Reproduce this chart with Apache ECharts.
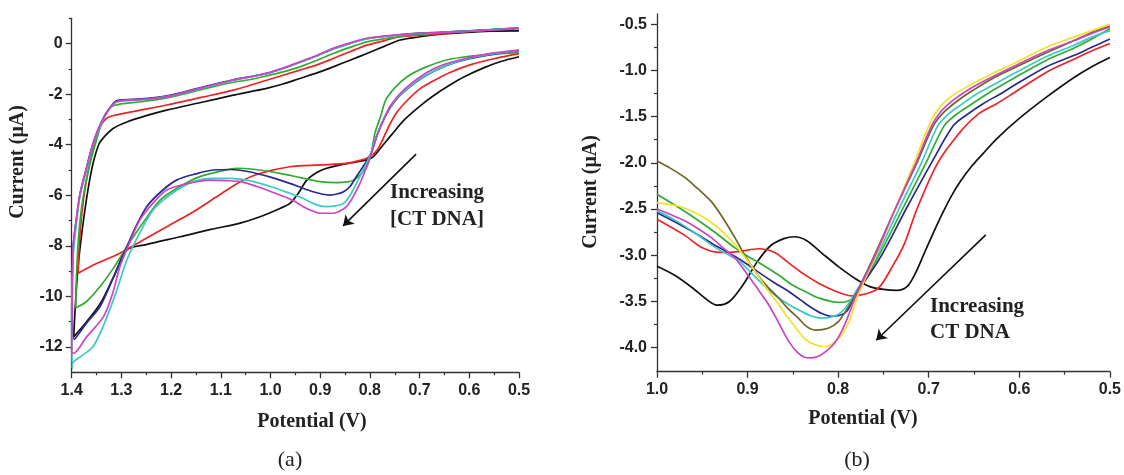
<!DOCTYPE html>
<html>
<head>
<meta charset="utf-8">
<script src="https://cdn.jsdelivr.net/npm/echarts@6/dist/echarts.min.js"></script>
<style>
  html, body { margin: 0; padding: 0; background: #fff; }
  #chart { width: 1124px; height: 475px; }
</style>
</head>
<body>
<div id="chart"></div>
<script>
// ---- panel (a): cyclic voltammograms, [potential V, current uA] ----
var aBlack = [[0.50,0.50],[0.558,0.49],[0.62,0.42],[0.672,0.34],[0.705,0.25],[0.739,0.14],[0.77,-0.10],[0.806,-0.39],[0.84,-0.66],[0.874,-0.92],[0.905,-1.15],[0.941,-1.38],[0.975,-1.60],[1.008,-1.77],[1.04,-1.90],[1.075,-2.04],[1.14,-2.33],[1.209,-2.63],[1.25,-2.85],[1.289,-3.10],[1.316,-3.35],[1.335,-3.70],[1.346,-4.01],[1.36,-5.0],[1.375,-6.8],[1.388,-9.0],[1.396,-11.6],
  [1.37,-11.0],[1.343,-10.3],[1.315,-9.2],[1.289,-8.16],[1.25,-7.95],[1.182,-7.64],[1.12,-7.35],[1.061,-7.10],[1.021,-6.85],[0.98,-6.51],[0.961,-6.32],[0.945,-5.95],[0.927,-5.40],[0.905,-5.08],[0.887,-4.93],[0.85,-4.76],[0.806,-4.60],[0.793,-4.47],[0.775,-4.05],[0.754,-3.55],[0.73,-3.0],[0.70,-2.48],[0.675,-2.10],[0.64,-1.65],[0.61,-1.31],[0.57,-0.95],[0.535,-0.70],[0.50,-0.52]];
var aRed = [[0.50,0.60],[0.56,0.53],[0.62,0.45],[0.68,0.35],[0.739,0.27],[0.77,0.12],[0.806,-0.06],[0.84,-0.32],[0.874,-0.59],[0.905,-0.83],[0.941,-1.05],[1.008,-1.45],[1.075,-1.84],[1.14,-2.13],[1.209,-2.43],[1.27,-2.66],[1.31,-2.82],[1.33,-2.96],[1.345,-3.4],[1.36,-4.4],[1.372,-5.6],[1.38,-6.8],[1.385,-8.0],[1.387,-9.08],
  [1.35,-8.70],[1.303,-8.29],[1.25,-7.70],[1.182,-6.95],[1.155,-6.65],[1.11,-6.08],[1.061,-5.46],[1.02,-5.13],[0.961,-4.87],[0.90,-4.80],[0.847,-4.74],[0.82,-4.62],[0.80,-4.47],[0.785,-4.2],[0.772,-3.7],[0.76,-3.2],[0.745,-2.7],[0.725,-2.25],[0.70,-1.8],[0.67,-1.45],[0.64,-1.15],[0.60,-0.85],[0.55,-0.60],[0.50,-0.40]];
var aGreen = [[0.50,0.62],[0.56,0.55],[0.62,0.48],[0.70,0.36],[0.75,0.25],[0.806,0.07],[0.84,-0.15],[0.874,-0.39],[0.905,-0.65],[0.941,-0.92],[0.975,-1.12],[1.008,-1.28],[1.04,-1.42],[1.075,-1.53],[1.14,-1.82],[1.209,-2.15],[1.26,-2.30],[1.30,-2.38],[1.32,-2.5],[1.335,-2.9],[1.35,-3.8],[1.365,-4.9],[1.378,-6.2],[1.386,-7.6],[1.39,-9.0],[1.392,-10.45],
  [1.37,-10.2],[1.343,-9.61],[1.315,-8.85],[1.289,-8.03],[1.255,-7.05],[1.222,-6.19],[1.182,-5.65],[1.142,-5.26],[1.10,-5.05],[1.068,-4.93],[1.03,-4.98],[0.981,-5.13],[0.94,-5.30],[0.90,-5.46],[0.867,-5.50],[0.845,-5.47],[0.833,-5.40],[0.82,-5.2],[0.806,-4.87],[0.797,-4.3],[0.79,-3.55],[0.778,-2.85],[0.768,-2.23],[0.75,-1.75],[0.725,-1.31],[0.69,-0.95],[0.646,-0.65],[0.60,-0.50],[0.55,-0.42],[0.50,-0.36]];
var aBlue = [[0.50,0.61],[0.558,0.54],[0.62,0.48],[0.706,0.40],[0.76,0.31],[0.806,0.19],[0.84,0.01],[0.874,-0.21],[0.905,-0.47],[0.941,-0.74],[0.975,-0.98],[1.008,-1.18],[1.04,-1.31],[1.075,-1.43],[1.14,-1.74],[1.209,-2.07],[1.26,-2.19],[1.309,-2.25],[1.325,-2.6],[1.34,-3.1],[1.357,-3.94],[1.37,-4.9],[1.383,-5.92],[1.391,-7.0],[1.397,-8.03],[1.399,-10.0],[1.395,-11.7],
  [1.37,-11.05],[1.343,-10.4],[1.315,-9.2],[1.289,-8.03],[1.27,-7.2],[1.249,-6.45],[1.22,-5.85],[1.189,-5.40],[1.15,-5.15],[1.115,-5.00],[1.08,-4.98],[1.048,-5.05],[1.0,-5.28],[0.961,-5.53],[0.935,-5.72],[0.914,-5.86],[0.895,-5.96],[0.88,-5.99],[0.866,-5.95],[0.853,-5.86],[0.84,-5.65],[0.827,-5.26],[0.81,-4.75],[0.797,-4.3],[0.785,-3.6],[0.772,-3.0],[0.758,-2.5],[0.742,-2.1],[0.725,-1.8],[0.70,-1.42],[0.675,-1.13],[0.645,-0.86],[0.60,-0.60],[0.55,-0.42],[0.50,-0.28]];
var aCyan = [[0.50,0.61],[0.558,0.54],[0.62,0.47],[0.706,0.39],[0.76,0.30],[0.806,0.18],[0.84,0.0],[0.874,-0.22],[0.905,-0.48],[0.941,-0.75],[0.975,-0.99],[1.008,-1.19],[1.04,-1.32],[1.075,-1.45],[1.14,-1.77],[1.209,-2.10],[1.26,-2.22],[1.309,-2.30],[1.325,-2.62],[1.34,-3.15],[1.357,-4.0],[1.37,-5.0],[1.383,-6.0],[1.391,-7.2],[1.397,-8.4],[1.40,-10.5],[1.399,-12.85],
  [1.398,-12.64],[1.38,-12.35],[1.357,-11.98],[1.335,-11.1],[1.31,-9.8],[1.289,-8.56],[1.262,-7.45],[1.236,-6.58],[1.20,-5.95],[1.155,-5.46],[1.115,-5.33],[1.08,-5.33],[1.048,-5.40],[1.0,-5.65],[0.961,-5.92],[0.935,-6.12],[0.914,-6.32],[0.90,-6.42],[0.887,-6.45],[0.87,-6.42],[0.853,-6.32],[0.84,-6.0],[0.827,-5.53],[0.812,-4.95],[0.798,-4.33],[0.786,-3.6],[0.773,-3.0],[0.759,-2.5],[0.743,-2.1],[0.726,-1.8],[0.70,-1.40],[0.675,-1.12],[0.645,-0.85],[0.60,-0.58],[0.55,-0.40],[0.50,-0.27]];
var aMagenta = [[0.50,0.60],[0.558,0.53],[0.62,0.47],[0.706,0.40],[0.76,0.32],[0.806,0.21],[0.84,0.03],[0.874,-0.19],[0.905,-0.45],[0.941,-0.72],[0.975,-0.97],[1.008,-1.18],[1.04,-1.31],[1.075,-1.44],[1.14,-1.76],[1.209,-2.10],[1.26,-2.22],[1.309,-2.30],[1.325,-2.6],[1.34,-3.1],[1.357,-3.94],[1.37,-4.9],[1.383,-5.92],[1.391,-7.0],[1.397,-8.03],[1.399,-10.0],[1.40,-12.2],
  [1.397,-12.25],[1.37,-11.6],[1.336,-10.8],[1.318,-9.9],[1.303,-8.82],[1.283,-7.85],[1.263,-6.98],[1.236,-6.3],[1.209,-5.79],[1.17,-5.55],[1.122,-5.40],[1.09,-5.42],[1.061,-5.46],[1.02,-5.70],[0.981,-5.99],[0.955,-6.2],[0.934,-6.45],[0.915,-6.62],[0.90,-6.71],[0.874,-6.71],[0.86,-6.62],[0.847,-6.45],[0.835,-6.1],[0.82,-5.53],[0.81,-5.05],[0.797,-4.34],[0.785,-3.6],[0.772,-3.0],[0.76,-2.5],[0.745,-2.1],[0.729,-1.78],[0.705,-1.40],[0.682,-1.10],[0.65,-0.82],[0.61,-0.60],[0.56,-0.40],[0.50,-0.26]];

// ---- panel (b): differential pulse voltammograms ----
var bBlack = [[1.0,-3.12],[0.98,-3.22],[0.96,-3.36],[0.945,-3.48],[0.934,-3.54],[0.92,-3.50],[0.905,-3.32],[0.89,-3.08],[0.875,-2.90],[0.86,-2.82],[0.848,-2.80],[0.835,-2.84],[0.82,-2.96],[0.80,-3.12],[0.78,-3.26],[0.765,-3.34],[0.75,-3.37],[0.735,-3.38],[0.724,-3.34],[0.715,-3.20],[0.705,-2.98],[0.695,-2.76],[0.685,-2.55],[0.675,-2.36],[0.665,-2.20],[0.652,-2.03],[0.64,-1.90],[0.625,-1.74],[0.60,-1.52],[0.57,-1.29],[0.54,-1.08],[0.52,-0.96],[0.50,-0.86]];
var bRed = [[1.0,-2.61],[0.97,-2.78],[0.95,-2.92],[0.93,-2.97],[0.91,-2.96],[0.888,-2.93],[0.87,-2.97],[0.855,-3.08],[0.837,-3.21],[0.82,-3.31],[0.80,-3.40],[0.785,-3.44],[0.77,-3.42],[0.755,-3.35],[0.74,-3.12],[0.727,-2.88],[0.713,-2.50],[0.690,-2.0],[0.663,-1.64],[0.645,-1.47],[0.625,-1.36],[0.607,-1.25],[0.57,-1.02],[0.54,-0.88],[0.52,-0.79],[0.50,-0.71]];
var bGreen = [[1.0,-2.34],[0.98,-2.46],[0.958,-2.60],[0.935,-2.76],[0.914,-2.92],[0.90,-3.01],[0.884,-3.10],[0.865,-3.22],[0.851,-3.32],[0.835,-3.40],[0.822,-3.46],[0.80,-3.51],[0.785,-3.47],[0.755,-3.0],[0.729,-2.5],[0.703,-2.0],[0.683,-1.60],[0.670,-1.48],[0.655,-1.38],[0.63,-1.22],[0.607,-1.09],[0.57,-0.89],[0.54,-0.76],[0.52,-0.66],[0.50,-0.55]];
var bBlue = [[1.0,-2.54],[0.98,-2.64],[0.958,-2.76],[0.938,-2.88],[0.918,-2.99],[0.90,-3.10],[0.884,-3.21],[0.87,-3.30],[0.855,-3.39],[0.842,-3.48],[0.829,-3.57],[0.818,-3.63],[0.807,-3.66],[0.798,-3.65],[0.79,-3.60],[0.782,-3.45],[0.752,-3.0],[0.725,-2.5],[0.697,-2.0],[0.673,-1.60],[0.658,-1.48],[0.64,-1.36],[0.62,-1.25],[0.607,-1.17],[0.57,-0.96],[0.54,-0.84],[0.52,-0.75],[0.50,-0.66]];
var bCyan = [[1.0,-2.52],[0.98,-2.62],[0.958,-2.76],[0.935,-2.92],[0.91,-3.06],[0.897,-3.18],[0.884,-3.31],[0.87,-3.43],[0.855,-3.53],[0.842,-3.60],[0.829,-3.66],[0.818,-3.68],[0.808,-3.67],[0.80,-3.64],[0.792,-3.57],[0.782,-3.42],[0.757,-3.0],[0.733,-2.5],[0.708,-2.0],[0.690,-1.60],[0.678,-1.47],[0.664,-1.37],[0.648,-1.26],[0.62,-1.11],[0.607,-1.04],[0.57,-0.85],[0.54,-0.73],[0.52,-0.64],[0.50,-0.57]];
var bOlive = [[1.0,-1.98],[0.985,-2.06],[0.969,-2.16],[0.955,-2.28],[0.94,-2.42],[0.927,-2.60],[0.914,-2.81],[0.903,-3.0],[0.892,-3.17],[0.88,-3.32],[0.866,-3.46],[0.855,-3.58],[0.844,-3.68],[0.835,-3.77],[0.825,-3.81],[0.811,-3.79],[0.80,-3.72],[0.792,-3.61],[0.781,-3.43],[0.760,-3.0],[0.737,-2.5],[0.713,-2.0],[0.695,-1.60],[0.684,-1.46],[0.671,-1.35],[0.655,-1.24],[0.63,-1.09],[0.607,-0.98],[0.57,-0.81],[0.54,-0.68],[0.52,-0.59],[0.50,-0.52]];
var bYellow = [[1.0,-2.43],[0.976,-2.47],[0.96,-2.53],[0.947,-2.60],[0.933,-2.70],[0.921,-2.81],[0.906,-2.98],[0.892,-3.17],[0.879,-3.36],[0.866,-3.53],[0.855,-3.68],[0.844,-3.82],[0.835,-3.92],[0.825,-3.97],[0.815,-3.99],[0.805,-3.95],[0.796,-3.86],[0.788,-3.72],[0.778,-3.43],[0.758,-3.0],[0.737,-2.5],[0.716,-2.0],[0.700,-1.60],[0.689,-1.41],[0.676,-1.29],[0.662,-1.20],[0.643,-1.10],[0.629,-1.03],[0.607,-0.93],[0.57,-0.75],[0.54,-0.64],[0.52,-0.57],[0.50,-0.50]];
var bMagenta = [[1.0,-2.50],[0.985,-2.56],[0.969,-2.63],[0.955,-2.71],[0.94,-2.81],[0.927,-2.92],[0.914,-3.03],[0.903,-3.17],[0.892,-3.32],[0.879,-3.50],[0.87,-3.65],[0.862,-3.80],[0.854,-3.94],[0.846,-4.04],[0.838,-4.10],[0.83,-4.11],[0.821,-4.09],[0.812,-4.03],[0.804,-3.95],[0.796,-3.82],[0.789,-3.66],[0.78,-3.43],[0.759,-3.0],[0.737,-2.5],[0.714,-2.0],[0.697,-1.60],[0.686,-1.44],[0.674,-1.33],[0.658,-1.22],[0.64,-1.12],[0.607,-0.96],[0.57,-0.79],[0.54,-0.68],[0.52,-0.60],[0.50,-0.53]];

// tick labels
var aXTicks = [0.5, 0.6, 0.7, 0.8, 0.9, 1.0, 1.1, 1.2, 1.3, 1.4];
var aYLabels = [-12, -10, -8, -6, -4, -2, 0];
var aYMinor = [-11, -9, -7, -5, -3, -1, 1];
var bXTicks = [0.5, 0.6, 0.7, 0.8, 0.9, 1.0];
var bYLabels = [-4.0, -3.5, -3.0, -2.5, -2.0, -1.5, -1.0, -0.5];
var bYMinor = [-3.75, -3.25, -2.75, -2.25, -1.75, -1.25, -0.75];

var aCurves = [aBlack, aRed, aGreen, aBlue, aCyan, aMagenta];
var aColors = ['#111111', '#ee2222', '#33aa33', '#2a2a8e', '#3cc8c8', '#cc44c4'];
var bCurves = [bBlack, bRed, bGreen, bBlue, bCyan, bOlive, bYellow, bMagenta];
var bColors = ['#111111', '#ee2222', '#33aa33', '#2a2a8e', '#3cc8c8', '#6e6626', '#f2e22a', '#cc44c4'];

var chart = echarts.init(document.getElementById('chart'));

var tickFont = { fontFamily: 'Liberation Sans', fontWeight: 'bold', fontSize: 16, color: '#222' };
var axisLine = { show: true, onZero: false, lineStyle: { color: '#333', width: 1.3 } };

function xAxis(grid, min, max, ticks) {
    return {
        type: 'value', gridIndex: grid, min: min, max: max, inverse: true,
        axisLine: axisLine,
        axisTick: { show: true, length: 6, customValues: ticks, lineStyle: { color: '#333', width: 1.3 } },
        splitLine: { show: false },
        axisLabel: Object.assign({ margin: 10, customValues: ticks,
            formatter: function (v) { return v.toFixed(1); } }, tickFont)
    };
}

// second axis only for the half-step minor ticks
function xAxisMinor(grid, min, max) {
    return {
        type: 'value', gridIndex: grid, min: min, max: max, inverse: true, interval: 0.1, position: 'bottom',
        axisLine: { show: false, onZero: false },
        axisTick: { show: false },
        minorTick: { show: true, splitNumber: 2, length: 3, lineStyle: { color: '#333', width: 1.2 } },
        axisLabel: { show: false },
        splitLine: { show: false }
    };
}

function yAxisMain(grid, min, max, labels, digits, margin) {
    return {
        type: 'value', gridIndex: grid, min: min, max: max,
        axisLine: axisLine,
        axisTick: { show: true, length: 6, customValues: labels, lineStyle: { color: '#333', width: 1.3 } },
        splitLine: { show: false },
        axisLabel: Object.assign({ margin: margin, customValues: labels,
            formatter: function (v) { return v.toFixed(digits); } }, tickFont)
    };
}

function yAxisMinor(grid, min, max, ticks) {
    return {
        type: 'value', gridIndex: grid, min: min, max: max, position: 'left',
        axisLine: { show: false, onZero: false },
        axisTick: { show: true, length: 3, customValues: ticks, lineStyle: { color: '#333', width: 1.2 } },
        axisLabel: { show: false },
        splitLine: { show: false }
    };
}

var series = [];
aCurves.forEach(function (c, i) {
    series.push({ type: 'line', xAxisIndex: 0, yAxisIndex: 0, data: c, showSymbol: false, smooth: 0.3,
        lineStyle: { color: aColors[i], width: 1.7 }, itemStyle: { color: aColors[i] } });
});
bCurves.forEach(function (c, i) {
    series.push({ type: 'line', xAxisIndex: 2, yAxisIndex: 2, data: c, showSymbol: false, smooth: 0.3,
        lineStyle: { color: bColors[i], width: 1.7 }, itemStyle: { color: bColors[i] } });
});

// arrows "increasing DNA"
function arrow(xi, yi, from, to) {
    return { type: 'line', xAxisIndex: xi, yAxisIndex: yi, data: [], silent: true,
        markLine: { silent: true, symbol: ['none', 'arrow'], symbolSize: 10, label: { show: false },
            lineStyle: { color: '#111', width: 1.6, type: 'solid' },
            data: [[{ coord: from }, { coord: to }]] } };
}
series.push(arrow(0, 0, [0.707, -4.37], [0.854, -7.21]));
series.push(arrow(2, 2, [0.637, -2.78], [0.758, -3.92]));

var serif = 'bold 20px "Liberation Serif"';
var option = {
    animation: false,
    backgroundColor: '#fff',
    grid: [
        { left: 71.7, top: 18.3, width: 447.3, height: 354 },
        { left: 657, top: 14, width: 453, height: 357.7 }
    ],
    xAxis: [xAxis(0, 0.5, 1.4, aXTicks), xAxisMinor(0, 0.5, 1.4), xAxis(1, 0.5, 1.0, bXTicks), xAxisMinor(1, 0.5, 1.0)],
    yAxis: [
        yAxisMain(0, -13, 1, aYLabels, 0, 9),
        yAxisMinor(0, -13, 1, aYMinor),
        yAxisMain(1, -4.26, -0.39, bYLabels, 1, 10),
        yAxisMinor(1, -4.26, -0.39, bYMinor)
    ],
    series: series,
    graphic: [
        { type: 'text', x: 18, y: 162, rotation: Math.PI / 2,
          style: { text: 'Current (\u03bcA)', font: serif, fill: '#222', align: 'center', verticalAlign: 'middle' } },
        { type: 'text', x: 591, y: 192, rotation: Math.PI / 2,
          style: { text: 'Current (\u03bcA)', font: serif, fill: '#222', align: 'center', verticalAlign: 'middle' } },
        { type: 'text', x: 312, y: 422,
          style: { text: 'Potential (V)', font: serif, fill: '#222', align: 'center', verticalAlign: 'middle' } },
        { type: 'text', x: 863, y: 419,
          style: { text: 'Potential (V)', font: serif, fill: '#222', align: 'center', verticalAlign: 'middle' } },
        { type: 'text', x: 290, y: 460,
          style: { text: '(a)', font: '22px "Liberation Serif"', fill: '#222', align: 'center', verticalAlign: 'middle' } },
        { type: 'text', x: 857, y: 460,
          style: { text: '(b)', font: '22px "Liberation Serif"', fill: '#222', align: 'center', verticalAlign: 'middle' } },
        { type: 'text', x: 390, y: 193,
          style: { text: 'Increasing', font: 'bold 21px "Liberation Serif"', fill: '#222', align: 'left', verticalAlign: 'middle' } },
        { type: 'text', x: 390, y: 220,
          style: { text: '[CT DNA]', font: 'bold 21px "Liberation Serif"', fill: '#222', align: 'left', verticalAlign: 'middle' } },
        { type: 'text', x: 930, y: 307,
          style: { text: 'Increasing', font: 'bold 21px "Liberation Serif"', fill: '#222', align: 'left', verticalAlign: 'middle' } },
        { type: 'text', x: 930, y: 333,
          style: { text: 'CT DNA', font: 'bold 21px "Liberation Serif"', fill: '#222', align: 'left', verticalAlign: 'middle' } }
    ]
};

chart.setOption(option);
</script>
</body>
</html>
